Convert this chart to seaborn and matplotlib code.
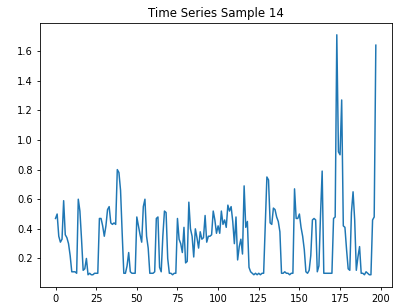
import matplotlib
matplotlib.use("Agg")
import matplotlib.pyplot as plt
import pandas as pd
import seaborn as sns

# Series values (index 0..197)
values = [
    0.47, 0.50, 0.35, 0.31, 0.33, 0.59, 0.36, 0.34, 0.30, 0.22,
    0.11, 0.11, 0.11, 0.10, 0.60, 0.52, 0.33, 0.12, 0.13, 0.20,
    0.09, 0.10, 0.09, 0.09, 0.10, 0.10, 0.10, 0.47, 0.47, 0.42,
    0.35, 0.42, 0.53, 0.55, 0.44, 0.43, 0.44, 0.43, 0.80, 0.78,
    0.66, 0.37, 0.10, 0.10, 0.15, 0.24, 0.11, 0.10, 0.10, 0.10,
    0.48, 0.42, 0.36, 0.31, 0.55, 0.60, 0.35, 0.27, 0.10, 0.10,
    0.10, 0.11, 0.47, 0.48, 0.14, 0.11, 0.35, 0.52, 0.51, 0.20,
    0.10, 0.10, 0.09, 0.10, 0.10, 0.47, 0.33, 0.30, 0.24, 0.41,
    0.17, 0.18, 0.58, 0.40, 0.35, 0.21, 0.40, 0.34, 0.27, 0.38,
    0.33, 0.34, 0.49, 0.31, 0.35, 0.35, 0.36, 0.52, 0.46, 0.37,
    0.42, 0.37, 0.52, 0.43, 0.46, 0.41, 0.56, 0.52, 0.55, 0.45,
    0.30, 0.48, 0.19, 0.28, 0.33, 0.23, 0.69, 0.41, 0.45, 0.14,
    0.11, 0.10, 0.09, 0.10, 0.09, 0.10, 0.09, 0.10, 0.10, 0.42,
    0.75, 0.73, 0.44, 0.43, 0.54, 0.53, 0.48, 0.45, 0.38, 0.10,
    0.10, 0.11, 0.10, 0.10, 0.09, 0.10, 0.10, 0.67, 0.47, 0.47,
    0.50, 0.41, 0.35, 0.26, 0.11, 0.10, 0.12, 0.22, 0.46, 0.47,
    0.46, 0.11, 0.15, 0.50, 0.79, 0.10, 0.10, 0.10, 0.10, 0.10,
    0.10, 0.47, 0.48, 1.71, 0.92, 0.90, 1.27, 0.42, 0.41, 0.26,
    0.13, 0.12, 0.51, 0.65, 0.46, 0.12, 0.21, 0.28, 0.10, 0.10,
    0.09, 0.11, 0.10, 0.09, 0.09, 0.46, 0.48, 1.64,
]
steps = list(range(len(values)))
title = "Time Series Sample 14"

df = pd.DataFrame({"t": steps, "value": values})

fig = plt.figure(figsize=(3.95, 3.08), dpi=100)
ax = fig.add_axes([0.1, 0.069, 0.892, 0.857])
sns.lineplot(data=df, x="t", y="value", ax=ax, color="#1f77b4", linewidth=1.07)

ax.set_title(title, fontsize=8.5, pad=4.5)
ax.set_xlabel("")
ax.set_ylabel("")
ax.set_xticks([0, 25, 50, 75, 100, 125, 150, 175, 200])
ax.set_yticks([0.2, 0.4, 0.6, 0.8, 1.0, 1.2, 1.4, 1.6])
ax.tick_params(labelsize=7.1, length=2.5, width=0.6, pad=2.5)
for s in ax.spines.values():
    s.set_linewidth(0.6)

fig.savefig("out.png", dpi=100)
